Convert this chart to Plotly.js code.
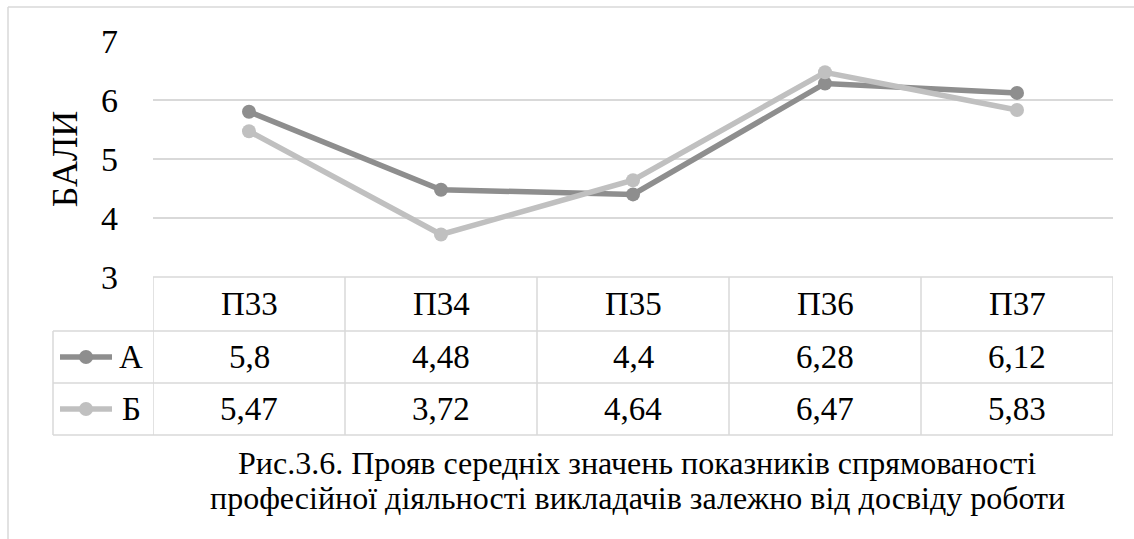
<!DOCTYPE html>
<html>
<head>
<meta charset="utf-8">
<script src="https://cdn.plot.ly/plotly-3.0.1.min.js"></script>
<style>
  html, body { margin: 0; padding: 0; background: #ffffff; }
  #chart { width: 1134px; height: 539px; }
</style>
</head>
<body>
<div id="chart"></div>
<script>
// Indicators (columns of the data table)
const categories = ['П33', 'П34', 'П35', 'П36', 'П37'];
// Group names
const seriesNames = ['А', 'Б'];
// Mean scores per group
const valuesA = [5.8, 4.48, 4.4, 6.28, 6.12];
const valuesB = [5.47, 3.72, 4.64, 6.47, 5.83];
const yTicks = [3, 4, 5, 6, 7];
const yTitle = 'БАЛИ';
const captionLines = [
  'Рис.3.6. Прояв середніх значень показників спрямованості',
  'професійної діяльності викладачів залежно від досвіду роботи'
];

const W = 1134, H = 539;
const colors = ['#8e8e8e', '#c0c0c0'];
const gridColor = '#d9d9d9';
const serifFamily = 'Liberation Serif';

// pixel -> paper helpers for layout geometry
const px = v => v / W;
const py = v => 1 - v / H;

const plotLeft = 153, plotRight = 1113, plotTop = 41, plotBottom = 277;
const rowLines = [277, 331, 383, 435];   // table horizontal rules
const keyLeft = 53;

const series = [valuesA, valuesB];
const traces = series.map((vals, i) => ({
  type: 'scatter',
  mode: 'lines+markers',
  x: categories,
  y: vals,
  name: seriesNames[i],
  line: { color: colors[i], width: 5.5 },
  marker: { color: colors[i], size: 14 },
  cliponaxis: false,
  hoverinfo: 'x+y+name'
}));

const fmt = v => String(v).replace('.', ',');

const shapes = [];
const annotations = [];
const lineStyle = { color: gridColor, width: 1.5 };

// outer chart frame (top and left edges)
shapes.push({ type: 'line', xref: 'paper', yref: 'paper', x0: px(8), x1: 1.01, y0: py(7), y1: py(7), line: lineStyle });
shapes.push({ type: 'line', xref: 'paper', yref: 'paper', x0: px(8), x1: px(8), y0: py(7), y1: -0.01, line: lineStyle });

// table horizontal rules
rowLines.forEach((y, k) => {
  shapes.push({
    type: 'line', xref: 'paper', yref: 'paper',
    x0: px(k === 0 ? plotLeft : keyLeft), x1: px(plotRight),
    y0: py(y), y1: py(y), line: lineStyle
  });
});
// table vertical rules at category boundaries
for (let i = 0; i <= categories.length; i++) {
  shapes.push({
    type: 'line', xref: 'x', yref: 'paper',
    x0: i - 0.5, x1: i - 0.5, y0: py(rowLines[0]), y1: py(rowLines[3]), line: lineStyle
  });
}
// left edge of the legend-key column
shapes.push({ type: 'line', xref: 'paper', yref: 'paper', x0: px(keyLeft), x1: px(keyLeft), y0: py(rowLines[1]), y1: py(rowLines[3]), line: lineStyle });

const rowCenters = [304, 357, 409];
const textFont = { family: serifFamily, size: 33, color: '#000000' };

// header row
categories.forEach((c, i) => {
  annotations.push({ xref: 'x', yref: 'paper', x: i, y: py(rowCenters[0]), text: c, showarrow: false, font: textFont, xanchor: 'center', yanchor: 'middle' });
});
// value rows with legend keys
series.forEach((vals, s) => {
  const yc = rowCenters[s + 1];
  vals.forEach((v, i) => {
    annotations.push({ xref: 'x', yref: 'paper', x: i, y: py(yc), text: fmt(v), showarrow: false, font: textFont, xanchor: 'center', yanchor: 'middle' });
  });
  shapes.push({ type: 'line', xref: 'paper', yref: 'paper', x0: px(60), x1: px(112), y0: py(yc), y1: py(yc), line: { color: colors[s], width: 5.5 } });
  shapes.push({ type: 'circle', xref: 'paper', yref: 'paper', x0: px(86 - 7), x1: px(86 + 7), y0: py(yc + 7), y1: py(yc - 7), line: { width: 0 }, fillcolor: colors[s] });
  annotations.push({ xref: 'paper', yref: 'paper', x: px(131), y: py(yc), text: seriesNames[s], showarrow: false, font: textFont, xanchor: 'center', yanchor: 'middle' });
});

// caption
captionLines.forEach((t, k) => {
  annotations.push({ xref: 'paper', yref: 'paper', x: px(637), y: py(463 + k * 35), text: t, showarrow: false, font: { family: serifFamily, size: 32, color: '#000000' }, xanchor: 'center', yanchor: 'middle' });
});

const layout = {
  width: W, height: H,
  margin: { l: 0, r: 0, t: 0, b: 0 },
  paper_bgcolor: '#ffffff',
  plot_bgcolor: '#ffffff',
  showlegend: false,
  xaxis: {
    domain: [px(plotLeft), px(plotRight)],
    range: [-0.5, categories.length - 0.5],
    type: 'category',
    showticklabels: false,
    showgrid: false,
    zeroline: false,
    showline: false,
    fixedrange: true
  },
  yaxis: {
    domain: [py(plotBottom), py(plotTop)],
    range: [yTicks[0], yTicks[yTicks.length - 1]],
    tickvals: yTicks,
    ticktext: yTicks.map(String),
    tickfont: { family: serifFamily, size: 34, color: '#000000' },
    ticks: '',
    ticklabelstandoff: 34,
    showgrid: true,
    gridcolor: gridColor,
    gridwidth: 1.5,
    zeroline: false,
    showline: false,
    fixedrange: true,
    title: { text: yTitle, font: { family: serifFamily, size: 36, color: '#000000' }, standoff: 12 }
  },
  shapes: shapes,
  annotations: annotations
};

Plotly.newPlot('chart', traces, layout, { displayModeBar: false, staticPlot: true });
</script>
</body>
</html>
